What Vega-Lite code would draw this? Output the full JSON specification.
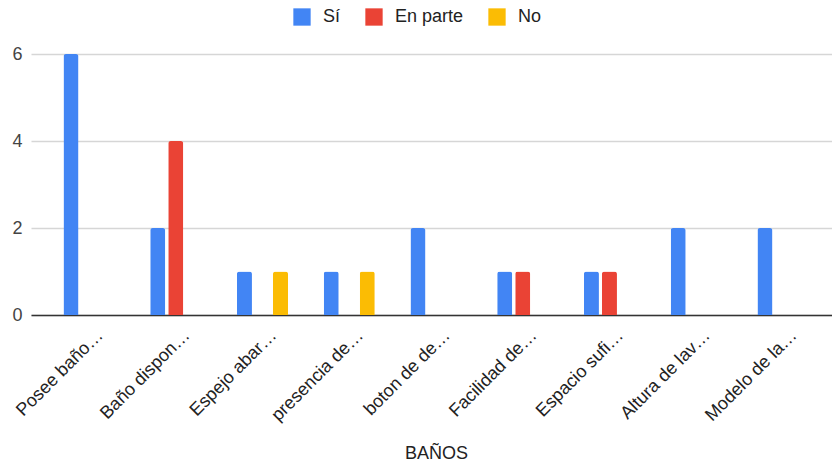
{
  "$schema": "https://vega.github.io/schema/vega-lite/v6.json",
  "width": 801,
  "height": 261,
  "autosize": {"type": "none"},
  "padding": {"left": 31, "top": 54, "right": 0, "bottom": 148},
  "background": "white",
  "config": {
    "view": {"stroke": null},
    "font": "Liberation Sans"
  },
  "data": {
    "values": [
      {"cat": "Posee baño…", "serie": "Sí", "valor": 6},
      {"cat": "Baño dispon…", "serie": "Sí", "valor": 2},
      {"cat": "Baño dispon…", "serie": "En parte", "valor": 4},
      {"cat": "Espejo abar…", "serie": "Sí", "valor": 1},
      {"cat": "Espejo abar…", "serie": "No", "valor": 1},
      {"cat": "presencia de…", "serie": "Sí", "valor": 1},
      {"cat": "presencia de…", "serie": "No", "valor": 1},
      {"cat": "boton de de…", "serie": "Sí", "valor": 2},
      {"cat": "Facilidad de…", "serie": "Sí", "valor": 1},
      {"cat": "Facilidad de…", "serie": "En parte", "valor": 1},
      {"cat": "Espacio sufi…", "serie": "Sí", "valor": 1},
      {"cat": "Espacio sufi…", "serie": "En parte", "valor": 1},
      {"cat": "Altura de lav…", "serie": "Sí", "valor": 2},
      {"cat": "Modelo de la…", "serie": "Sí", "valor": 2}
    ]
  },
  "mark": {"type": "bar", "cornerRadiusTopLeft": 2.5, "cornerRadiusTopRight": 2.5},
  "encoding": {
    "x": {
      "field": "cat",
      "type": "nominal",
      "sort": null,
      "scale": {"paddingInner": 0, "paddingOuter": 0.117, "align": 0.72},
      "axis": {
        "title": "BAÑOS",
        "titleFont": "Liberation Sans",
        "titleFontSize": 18,
        "titleFontWeight": "normal",
        "titleColor": "#222222",
        "titleX": 405,
        "titleY": 143,
        "titleBaseline": "alphabetic",
        "labelAngle": -45,
        "labelFont": "Liberation Sans",
        "labelFontSize": 18,
        "labelColor": "#222222",
        "labelPadding": 11,
        "labelOffset": 5,
        "labelLimit": 200,
        "ticks": false,
        "domainColor": "#333333",
        "domainWidth": 1.3,
        "grid": false
      }
    },
    "xOffset": {
      "field": "serie",
      "type": "nominal",
      "scale": {"domain": ["Sí", "En parte", "No"], "paddingInner": 0.167, "paddingOuter": 0.99}
    },
    "y": {
      "field": "valor",
      "type": "quantitative",
      "scale": {"domain": [0, 6], "nice": false},
      "axis": {
        "title": null,
        "values": [0, 2, 4, 6],
        "labelFont": "Liberation Sans",
        "labelFontSize": 18,
        "labelColor": "#444444",
        "labelPadding": 9,
        "ticks": false,
        "domain": false,
        "gridColor": "#d6d6d6",
        "gridWidth": 1.3
      }
    },
    "color": {
      "field": "serie",
      "type": "nominal",
      "scale": {"domain": ["Sí", "En parte", "No"], "range": ["#4285F4", "#EA4335", "#FBBC04"]},
      "legend": {
        "title": null,
        "orient": "none",
        "direction": "horizontal",
        "legendX": 262,
        "legendY": -46,
        "symbolType": "square",
        "symbolSize": 300,
        "symbolStrokeWidth": 0,
        "symbolOpacity": 1,
        "labelFont": "Liberation Sans",
        "labelFontSize": 18,
        "labelColor": "#222222",
        "labelOffset": 12,
        "columnPadding": 24
      }
    }
  }
}
